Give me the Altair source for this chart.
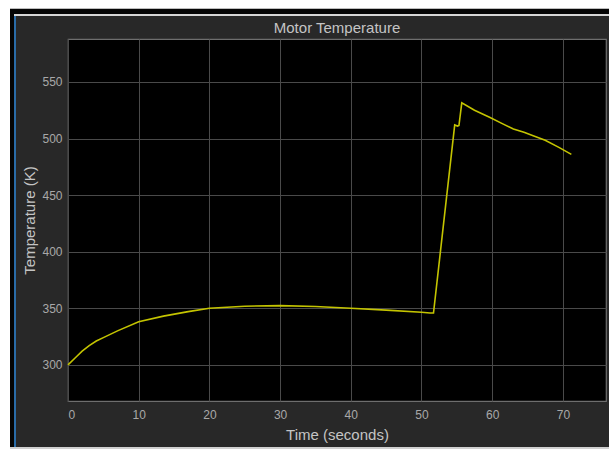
import altair as alt
import pandas as pd

# ---- data ----
time_s = [0, 1, 2, 3, 4, 5, 7, 10, 13.5, 17, 20, 25, 30, 35, 40, 45, 50, 51.2,
          51.7, 54.7, 55.1, 55.3, 55.7, 57.5, 59.7, 61.5, 63, 64.5, 65.8, 67.5,
          69.5, 71.2]
temp_k = [300, 306, 312, 317, 321, 324, 330, 338, 343, 347, 350, 351.8, 352.3,
          351.5, 350, 348.3, 346.5, 345.8, 345.8, 512, 511, 511.5, 531.5, 525,
          518.6, 513, 508.5, 505.5, 502.5, 498.5, 492, 486]
x_ticks = [0, 10, 20, 30, 40, 50, 60, 70]
y_ticks = [300, 350, 400, 450, 500, 550]
chart_title = ["Motor Temperature"]

W, H = 538, 362
PL, PT = 68, 39  # plot origin in page pixels

df = pd.DataFrame({"t": time_s, "T": temp_k})

# window-frame decoration pieces (page pixel boxes, converted to plot-relative)
frame_boxes = [
    # x0, x1, y0, y1, colour
    (0, 10, 0, 453, "#ffffff"),
    (0, 609, 0, 8, "#ffffff"),
    (10, 609, 8, 9, "#bdbdbd"),
    (10, 15, 9, 449, "#050505"),
    (10, 609, 9, 14, "#050505"),
    (14, 609, 14, 16, "#d6d6d6"),
    (14, 16, 16, 447, "#2a6ca8"),
    (10, 609, 447, 449, "#d0d0d0"),
    (0, 609, 449, 453, "#ffffff"),
]
frame = pd.DataFrame({
    "x0": [b[0] - PL for b in frame_boxes],
    "x1": [b[1] - PL for b in frame_boxes],
    "y0": [b[2] - PT for b in frame_boxes],
    "y1": [b[3] - PT for b in frame_boxes],
    "c": [b[4] for b in frame_boxes],
})

deco = alt.Chart(frame).mark_rect(clip=False).encode(
    x=alt.X("x0:Q", scale=None, axis=None),
    x2="x1:Q",
    y=alt.Y("y0:Q", scale=None, axis=None),
    y2="y1:Q",
    color=alt.Color("c:N", scale=None, legend=None),
)

title = alt.Chart(pd.DataFrame({"title": chart_title})).mark_text(
    fontSize=15, font="Liberation Sans", color="#c4c4c4",
    align="center", baseline="alphabetic", clip=False,
).encode(
    text="title:N",
    x=alt.value(W / 2),
    y=alt.value(-6),
)

line = alt.Chart(df).mark_line(color="#c4c400", strokeWidth=1.6).encode(
    x=alt.X(
        "t:Q",
        scale=alt.Scale(domain=[0, 76.1], nice=False, zero=False),
        axis=alt.Axis(
            values=x_ticks, title="Time (seconds)", grid=True, ticks=False,
            domain=False, labelPadding=8, labelFontSize=12,
            titleFontSize=15, titleX=W / 2, titleY=38,
            titleBaseline="alphabetic", titleAlign="center",
        ),
    ),
    y=alt.Y(
        "T:Q",
        scale=alt.Scale(domain=[268, 588], nice=False, zero=False),
        axis=alt.Axis(
            values=y_ticks, title="Temperature (K)", grid=True, ticks=False,
            domain=False, labelPadding=6, labelFontSize=12,
            titleFontSize=15, titleAngle=270, titleX=-34, titleY=H / 2,
            titleBaseline="alphabetic", titleAlign="center",
        ),
    ),
)

chart = alt.layer(deco, title, line).properties(
    width=W,
    height=H,
    autosize=alt.AutoSizeParams(type="none"),
    padding={"left": PL, "top": PT, "right": 609 - PL - W, "bottom": 453 - PT - H},
    background="#282828",
).configure_view(
    fill="#000000", stroke="#6e6e6e", strokeWidth=1.2,
).configure_axis(
    gridColor="#4a4a4a", gridWidth=1, gridOpacity=1,
    labelColor="#a8a8a8", titleColor="#c4c4c4",
    labelFont="Liberation Sans", titleFont="Liberation Sans",
    titleFontWeight="normal",
)

chart.save("out.html", embed_options={"renderer": "svg", "actions": False})
